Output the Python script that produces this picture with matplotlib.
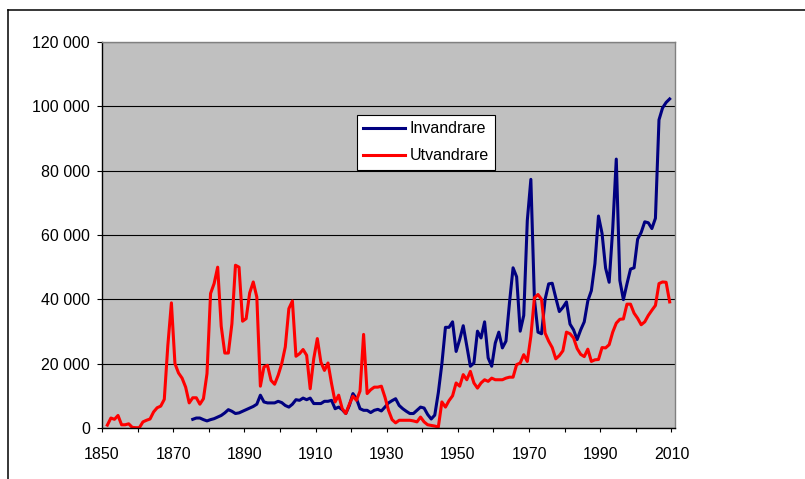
# Invandring och utvandring, Sverige 1851-2009
import numpy as np
import matplotlib
matplotlib.use("Agg")
import matplotlib.pyplot as plt
import matplotlib.ticker as ticker
from matplotlib.lines import Line2D

plt.rcParams['font.family'] = ['Liberation Sans', 'DejaVu Sans']

# utvandrare, 1851-2009
ut_start = 1851
utvandrare = [
    900, 3100, 2700, 3900, 1000, 1000, 1300, 200, 100, 100,            # 1851-1860
    1900, 2400, 2800, 5000, 6300, 6800, 8900, 25700, 38900, 20000,     # 1861-1870
    17100, 15500, 12700, 7800, 9400, 9400, 7400, 9100, 16900, 41800,   # 1871-1880
    44900, 50000, 31600, 23300, 23300, 32400, 50600, 50000, 33200, 34000,  # 1881-1890
    42000, 45400, 40700, 13000, 19000, 19500, 14800, 13600, 16400, 20000,  # 1891-1900
    25200, 37100, 39500, 22300, 23100, 24400, 22600, 12200, 21600, 27800,  # 1901-1910
    20500, 17900, 20200, 13800, 8100, 10200, 6000, 4500, 7400, 9900,   # 1911-1920
    8600, 11500, 29100, 10700, 11900, 12700, 12700, 13000, 9600, 5500, # 1921-1930
    2600, 1600, 2400, 2400, 2400, 2400, 2200, 1900, 3400, 1900,        # 1931-1940
    1000, 800, 600, 300, 8100, 6500, 8500, 10000, 14000, 13000,        # 1941-1950
    16600, 15000, 17600, 14000, 12400, 14000, 15000, 14500, 15500, 15000,  # 1951-1960
    15000, 15000, 15500, 15800, 15800, 19700, 20200, 22800, 20700, 28500,  # 1961-1970
    40500, 41500, 40000, 29500, 27000, 25000, 21500, 22500, 24000, 29800,  # 1971-1980
    29300, 28000, 24700, 22900, 22200, 24500, 20700, 21200, 21300, 25000,  # 1981-1990
    24900, 25900, 29800, 32600, 33800, 33900, 38500, 38500, 35700, 34100,  # 1991-2000
    32100, 33000, 35000, 36600, 38100, 44900, 45400, 45300, 39200,     # 2001-2009
]

# invandrare, 1875-2009
in_start = 1875
invandrare = [
    2700, 3100, 3100, 2600, 2200, 2600,                                # 1875-1880
    2900, 3400, 3900, 4700, 5700, 5200, 4500, 4700, 5200, 5700,        # 1881-1890
    6200, 6700, 7400, 10200, 8100, 7800, 7800, 7800, 8300, 7900,       # 1891-1900
    7000, 6500, 7400, 8800, 8600, 9300, 8800, 9300, 7600, 7600,        # 1901-1910
    7600, 8300, 8300, 8600, 6000, 6500, 5700, 4500, 7000, 10700,       # 1911-1920
    9100, 6000, 5500, 5500, 4800, 5500, 5800, 5300, 6500, 7800,        # 1921-1930
    8500, 9100, 7000, 6000, 5200, 4500, 4500, 5500, 6500, 6200,        # 1931-1940
    4200, 2800, 4000, 11000, 20000, 31300, 31300, 33000, 23800, 27500, # 1941-1950
    31800, 25400, 19200, 20200, 30100, 28000, 33000, 21800, 19200, 26400,  # 1951-1960
    29800, 24900, 27000, 39000, 49800, 47000, 30100, 35000, 64500, 77300,  # 1961-1970
    40000, 29800, 29300, 40000, 44800, 45000, 40500, 36200, 37500, 39200,  # 1971-1980
    32300, 30500, 27500, 30500, 33000, 39500, 42700, 51100, 65900, 60500,  # 1981-1990
    49700, 45300, 61900, 83600, 45900, 39900, 44800, 49400, 49800, 58700,  # 1991-2000
    60800, 64100, 63800, 62000, 65200, 95800, 99500, 101200, 102300,   # 2001-2009
]

# category slots: each year sits in the middle of its slot
ut_years = np.arange(ut_start, ut_start + len(utvandrare)) + 0.5
in_years = np.arange(in_start, in_start + len(invandrare)) + 0.5

fig = plt.figure(figsize=(8.05, 4.79), dpi=100)
ax = fig.add_axes([102 / 805, 1 - 428 / 479, 573 / 805, 386 / 479])
ax.set_facecolor('#C0C0C0')

ax.plot(in_years, invandrare, color='#000080', lw=2.2, label='Invandrare', solid_joinstyle='round')
ax.plot(ut_years, utvandrare, color='#FF0000', lw=2.2, label='Utvandrare', solid_joinstyle='round')

ax.set_xlim(1850, 2011)
ax.set_ylim(0, 120000)

ax.xaxis.set_major_locator(ticker.FixedLocator(np.arange(1850, 2011, 10)))
ax.xaxis.set_major_formatter(ticker.FuncFormatter(lambda v, p: f'{int(round(v))}' if int(round(v)) % 20 == 10 else ''))
ax.yaxis.set_major_locator(ticker.MultipleLocator(20000))
ax.yaxis.set_major_formatter(ticker.FuncFormatter(lambda v, p: f'{int(v):,}'.replace(',', ' ')))

ax.tick_params(axis='x', length=3.2, width=0.8, pad=10.5, labelsize=11.5, direction='out')
ax.tick_params(axis='y', length=3.8, width=0.8, pad=5, labelsize=11.5, direction='out')

ax.yaxis.grid(True, color='black', lw=0.8)
ax.get_ygridlines()[-1].set_visible(False)
ax.set_axisbelow(True)

ax.spines['left'].set_color('black')
ax.spines['bottom'].set_color('black')
ax.spines['top'].set_color('#808080')
ax.spines['right'].set_color('#808080')
for s in ax.spines.values():
    s.set_linewidth(1.0)

leg = ax.legend(loc='upper left', bbox_to_anchor=(0.445, 0.811), fancybox=False,
                edgecolor='black', framealpha=1, borderaxespad=0, fontsize=11.5,
                handlelength=2.6, handletextpad=0.3, labelspacing=0.75, borderpad=0.4)
leg.get_frame().set_linewidth(0.8)

# outer chart frame
fig.add_artist(Line2D([8 / 805, 8 / 805], [0, 1 - 10 / 479], transform=fig.transFigure, color='black', lw=1.1))
fig.add_artist(Line2D([8 / 805, 1], [1 - 10 / 479, 1 - 10 / 479], transform=fig.transFigure, color='black', lw=1.1))

fig.savefig('out.png', dpi=100)
